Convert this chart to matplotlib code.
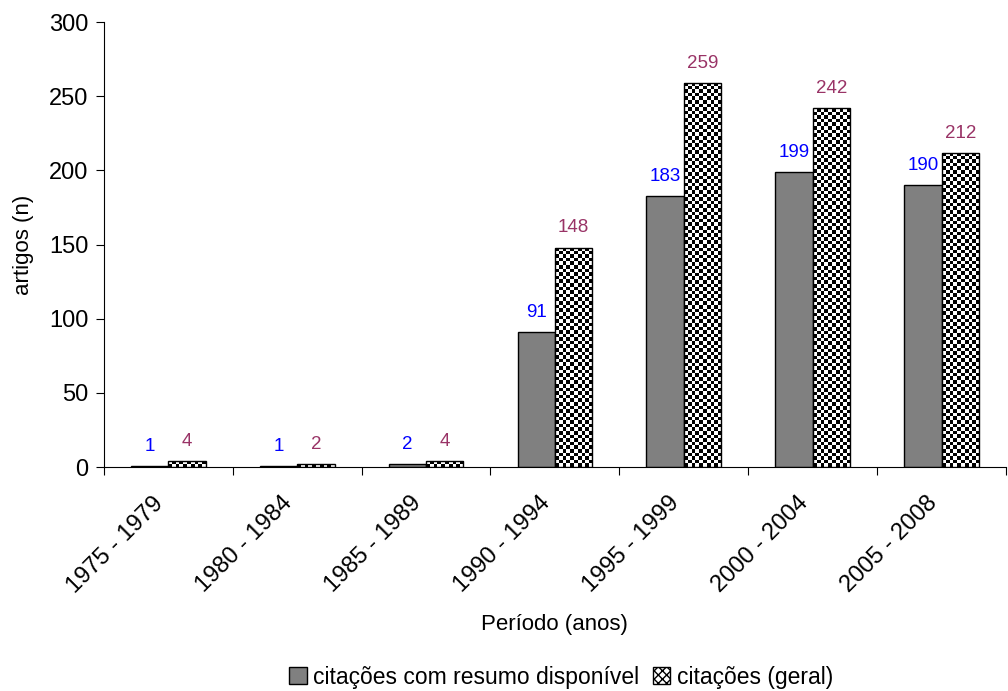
import numpy as np
import matplotlib
matplotlib.use("Agg")
import matplotlib.pyplot as plt
import matplotlib.transforms as mtransforms
from matplotlib.patches import Patch

periods = ["1975 - 1979", "1980 - 1984", "1985 - 1989", "1990 - 1994",
           "1995 - 1999", "2000 - 2004", "2005 - 2008"]
com_resumo = [1, 1, 2, 91, 183, 199, 190]
geral = [4, 2, 4, 148, 259, 242, 212]
series_names = ["citações com resumo disponível", "citações (geral)"]

plt.rcParams['font.family'] = ['Liberation Sans', 'DejaVu Sans']

fig = plt.figure(figsize=(10.08, 6.91), dpi=100)
ax = fig.add_axes([0.103, 0.324, 0.895, 0.644])

x = np.arange(len(periods))
w = 0.29
b1 = ax.bar(x - w / 2, com_resumo, w, color="#808080", edgecolor="black",
            linewidth=1, label=series_names[0], zorder=2)
b2 = ax.bar(x + w / 2, geral, w, facecolor="none", edgecolor="black",
            linewidth=1, label=series_names[1], zorder=4)

ax.set_xlim(-0.5, len(periods) - 0.5)
ax.set_ylim(0, 300)

# checkerboard fill for the "geral" bars, clipped to each bar
fig.canvas.draw()
cell = 3.6  # pixels per checker square
for p in b2:
    x0, y0 = p.get_x(), p.get_y()
    bw, bh = p.get_width(), p.get_height()
    (px0, py0), (px1, py1) = ax.transData.transform([(x0, y0), (x0 + bw, y0 + bh)])
    nc = max(1, int(round((px1 - px0) / cell)))
    nr = max(1, int(round((py1 - py0) / cell)))
    yy, xx = np.indices((nr, nc))
    board = ((xx + yy) % 2).astype(float)
    im = ax.imshow(board, cmap="gray", extent=(x0, x0 + bw, y0, y0 + bh),
                   interpolation="nearest", aspect="auto", zorder=3,
                   origin="lower")
    im.set_clip_path(p)
ax.set_aspect("auto")
ax.set_xlim(-0.5, len(periods) - 0.5)
ax.set_ylim(0, 300)

for rect, v in zip(b1, com_resumo):
    ax.annotate(str(v), (rect.get_x() + rect.get_width() / 2, v),
                xytext=(0, 8), textcoords="offset points", ha="center",
                va="bottom", color="#0000ff", fontsize=13.5)
for rect, v in zip(b2, geral):
    ax.annotate(str(v), (rect.get_x() + rect.get_width() / 2, v),
                xytext=(0, 8), textcoords="offset points", ha="center",
                va="bottom", color="#993366", fontsize=13.5)

ax.spines["top"].set_visible(False)
ax.spines["right"].set_visible(False)
ax.set_yticks(np.arange(0, 301, 50))
ax.tick_params(axis="y", labelsize=17, direction="out", length=6, pad=5)
ax.set_xticks(np.arange(-0.5, len(periods), 1.0))
ax.set_xticklabels([])
ax.set_xticks(x, minor=True)
ax.set_xticklabels(periods, minor=True, rotation=45, ha="right", va="center",
                   rotation_mode="anchor", fontsize=17)
ax.tick_params(axis="x", which="major", direction="out", length=6)
ax.tick_params(axis="x", which="minor", length=0, pad=10)
# nudge the rotated labels down/left like the original
shift = mtransforms.ScaledTranslation(-0.08, -0.19, fig.dpi_scale_trans)
for lab in ax.get_xticklabels(minor=True):
    lab.set_transform(lab.get_transform() + shift)

ax.set_ylabel("artigos (n)", fontsize=16, labelpad=11)
ax.set_xlabel("Período (anos)", fontsize=16, labelpad=12)

handles = [Patch(facecolor="#808080", edgecolor="black"),
           Patch(facecolor="white", edgecolor="black", hatch="xxxx")]
fig.legend(handles, series_names, loc="center", bbox_to_anchor=(0.557, 0.02),
           ncol=2, frameon=False, fontsize=16.5, handlelength=0.75,
           handleheight=0.75, handletextpad=0.3, columnspacing=0.6)

fig.savefig("out.png", dpi=100)
